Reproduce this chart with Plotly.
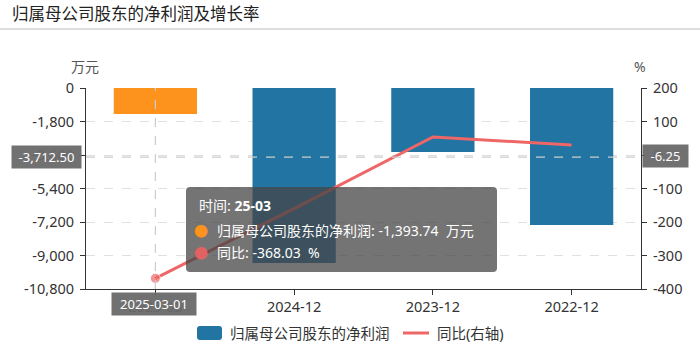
import plotly.graph_objects as go

# ---------------- data ----------------
categories = ["2025-03", "2024-12", "2023-12", "2022-12"]
net_profit = [-1393.74, -9400, -3440, -7360]          # 万元
yoy_pct = [-368.03, -160, 54, 30]                     # %
left_ticks = [0, -1800, -3600, -5400, -7200, -9000, -10800]
left_ticktext = ["0", "-1,800", "-3,600", "-5,400", "-7,200", "-9,000", "-10,800"]
right_ticks = [200, 100, 0, -100, -200, -300, -400]
right_ticktext = ["200", "100", "0", "-100", "-200", "-300", "-400"]
title_text = "归属母公司股东的净利润及增长率"
series_names = ["归属母公司股东的净利润", "同比(右轴)"]
hover_left_label = "-3,712.50"
hover_left_value = -3712.50
hover_right_label = "-6.25"
hover_x_label = "2025-03-01"

# ---------------- style ----------------
W, H = 700, 353
L, R, T, B = 86, 641, 88, 289
BLUE = "#2274a2"
ORANGE = "#fd931d"
RED = "#ee6666"
FONT = "Noto Sans, Noto Sans CJK SC"
TXT = "#333333"


def px(x):
    return (x - L) / (R - L)


def py(y):
    return (B - y) / (B - T)


def rrect(x0, y0, x1, y1, r):
    pts = [
        ("M", [(x0 + r, y0)]), ("L", [(x1 - r, y0)]), ("Q", [(x1, y0), (x1, y0 + r)]),
        ("L", [(x1, y1 - r)]), ("Q", [(x1, y1), (x1 - r, y1)]), ("L", [(x0 + r, y1)]),
        ("Q", [(x0, y1), (x0, y1 - r)]), ("L", [(x0, y0 + r)]), ("Q", [(x0, y0), (x0 + r, y0)]),
    ]
    s = ""
    for c, ps in pts:
        s += c + " " + " ".join(f"{px(a):.5f},{py(b):.5f}" for a, b in ps) + " "
    return s + "Z"


bar_colors = [ORANGE] + [BLUE] * (len(categories) - 1)
marker_sizes = [10] + [0] * (len(categories) - 1)

fig = go.Figure()
fig.add_trace(go.Bar(
    x=categories, y=net_profit, name=series_names[0],
    marker=dict(color=bar_colors, line=dict(width=0)), width=0.6,
    yaxis="y", showlegend=False, hoverinfo="skip",
))
fig.add_trace(go.Scatter(
    x=categories, y=yoy_pct, name=series_names[1], mode="lines+markers",
    line=dict(color=RED, width=3), marker=dict(size=marker_sizes, color=RED),
    yaxis="y2", showlegend=False, hoverinfo="skip",
))

axis_font = dict(family=FONT, size=14.5, color=TXT)

fig.update_layout(
    width=W, height=H, autosize=False,
    margin=dict(l=L, r=W - R, t=T, b=H - B, pad=0),
    paper_bgcolor="white", plot_bgcolor="white",
    font=dict(family=FONT, color=TXT),
    bargap=0.4,
    xaxis=dict(
        type="category", range=[-0.5, len(categories) - 0.5],
        showline=True, linecolor="#333333", linewidth=1,
        ticks="outside", ticklen=5, tickcolor="#333333",
        showgrid=False, tickfont=axis_font, fixedrange=True,
    ),
    yaxis=dict(
        range=[left_ticks[-1], left_ticks[0]], tickvals=left_ticks, ticktext=left_ticktext,
        showline=True, linecolor="#333333", linewidth=1,
        ticks="outside", ticklen=5, tickcolor="#333333",
        showgrid=True, gridcolor="#e0e0e0", griddash="dash", gridwidth=1,
        zeroline=False, tickfont=axis_font, ticklabelstandoff=3,
    ),
    yaxis2=dict(
        range=[right_ticks[-1], right_ticks[0]], tickvals=right_ticks, ticktext=right_ticktext,
        overlaying="y", side="right",
        showline=True, linecolor="#333333", linewidth=1,
        ticks="outside", ticklen=5, tickcolor="#333333",
        showgrid=False, zeroline=False, tickfont=axis_font, ticklabelstandoff=3,
    ),
)

shapes = []
# title separator
shapes.append(dict(type="line", xref="paper", yref="paper", x0=px(0), x1=px(W), y0=py(29), y1=py(29),
                   line=dict(color="#dddddd", width=2), layer="above"))
# crosshair
shapes.append(dict(type="line", xref="x", yref="paper", x0=categories[0], x1=categories[0], y0=0, y1=1,
                   line=dict(color="#cccccc", width=1.2, dash="dash"), layer="above"))
shapes.append(dict(type="line", xref="paper", yref="y", x0=0, x1=1, y0=hover_left_value, y1=hover_left_value,
                   line=dict(color="#cccccc", width=1.2, dash="dash"), layer="above"))
# tooltip box
shapes.append(dict(type="path", xref="paper", yref="paper", path=rrect(186, 187, 497, 272, 4),
                   fillcolor="rgba(70,70,70,0.75)", line=dict(width=0), layer="above"))
# legend icons
shapes.append(dict(type="path", xref="paper", yref="paper", path=rrect(197, 326, 222, 340, 3),
                   fillcolor=BLUE, line=dict(width=0), layer="above"))
shapes.append(dict(type="line", xref="paper", yref="paper", x0=px(403), x1=px(429), y0=py(333), y1=py(333),
                   line=dict(color=RED, width=3), layer="above"))

ann = []


def text(x, y, s, size=14, color=TXT, xanchor="left", **kw):
    ann.append(dict(x=px(x), y=py(y), xref="paper", yref="paper", text=s, showarrow=False,
                    xanchor=xanchor, yanchor="middle", font=dict(family=FONT, size=size, color=color), **kw))


text(10, 14, title_text, size=16.5, color="#222222")
text(85, 67, "万元", size=14, color="#555555", xanchor="center")
text(640, 66, "%", size=14, color="#555555", xanchor="center")
# tooltip content
text(197, 205, "时间: <b>25-03</b>", size=14, color="white")
text(201, 230, "●", size=14, color=ORANGE, xanchor="center")
text(215, 230, f"{series_names[0]}: -1,393.74  万元", size=14, color="white")
text(201, 252, "●", size=14, color="#e06262", xanchor="center")
text(215, 252, "同比: -368.03  %", size=14, color="white")
# axis pointer labels
for cx, cy, w, s in [(46.5, 157, 69, hover_left_label), (665.5, 156, 45, hover_right_label),
                     (154, 304, 84, hover_x_label)]:
    ann.append(dict(x=px(cx), y=py(cy), xref="paper", yref="paper", text=s, showarrow=False,
                    xanchor="center", yanchor="middle", width=w - 4, height=18, borderpad=2,
                    bgcolor="rgba(105,105,105,0.95)", font=dict(family=FONT, size=13, color="white")))
# legend texts
text(228, 333, series_names[0], size=14.5, color=TXT)
text(435, 333, series_names[1], size=14.5, color=TXT)

fig.update_layout(shapes=shapes, annotations=ann)
fig.write_html("out.html")
